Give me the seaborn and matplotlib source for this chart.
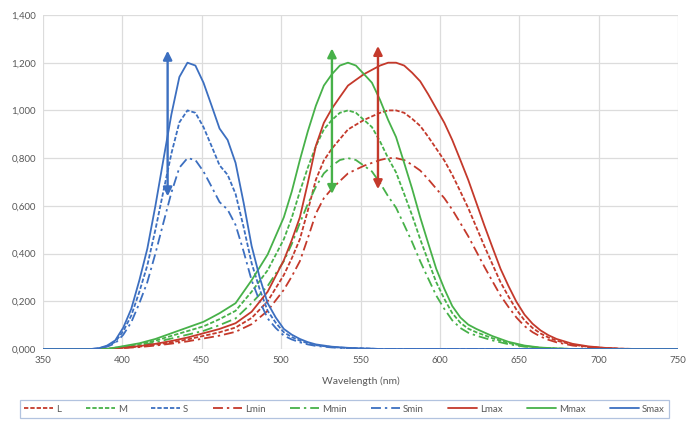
import numpy as np
import pandas as pd
import seaborn as sns
from matplotlib import pyplot as plt
from matplotlib.ticker import FuncFormatter, MultipleLocator

# base cone sensitivity curves (peak = 1.0)
wl_s = [350, 380.3, 385.4, 390.4, 395.5, 400.6, 405.6, 410.7, 415.7, 420.8,
        425.8, 430.9, 435.9, 441.0, 446.0, 451.1, 456.2, 461.2, 466.3, 471.3,
        476.4, 481.4, 486.5, 491.5, 496.6, 501.7, 506.7, 511.8, 516.8, 521.9,
        532.0, 542.1, 552.2, 562.3, 750]
s_base = [0.0, 0.0, 0.003, 0.012, 0.03, 0.075, 0.14, 0.24, 0.35, 0.5, 0.66,
          0.82, 0.95, 1.0, 0.99, 0.93, 0.85, 0.77, 0.73, 0.65, 0.51, 0.36,
          0.25, 0.16, 0.11, 0.07, 0.05, 0.035, 0.024, 0.016, 0.008, 0.004,
          0.002, 0.0, 0.0]

wl_m = [350, 390.4, 400.6, 410.7, 420.8, 430.9, 441.0, 451.1, 456.2, 461.2,
        471.3, 481.4, 491.5, 501.7, 506.7, 511.8, 516.8, 521.9, 526.9, 532.0,
        537.0, 542.1, 547.1, 552.2, 557.2, 562.3, 567.4, 572.4, 577.5, 582.5,
        587.6, 592.6, 597.7, 602.8, 607.8, 612.9, 617.9, 623.0, 633.1, 643.2,
        653.3, 663.4, 673.5, 683.6, 750]
m_base = [0.0, 0.0, 0.01, 0.02, 0.035, 0.055, 0.075, 0.095, 0.11, 0.125,
          0.16, 0.24, 0.33, 0.46, 0.55, 0.66, 0.76, 0.85, 0.92, 0.96, 0.99,
          1.0, 0.99, 0.96, 0.93, 0.87, 0.8, 0.74, 0.65, 0.56, 0.46, 0.37,
          0.28, 0.21, 0.15, 0.11, 0.085, 0.07, 0.045, 0.025, 0.012, 0.005,
          0.002, 0.0, 0.0]

wl_l = [350, 390.4, 400.6, 410.7, 420.8, 430.9, 441.0, 451.1, 461.2, 471.3,
        481.4, 491.5, 501.7, 506.7, 511.8, 516.8, 521.9, 526.9, 532.0, 537.0,
        542.1, 547.1, 552.2, 557.2, 562.3, 567.4, 572.4, 577.5, 582.5, 587.6,
        592.6, 597.7, 602.8, 607.8, 612.9, 617.9, 623.0, 628.1, 633.1, 638.2,
        643.2, 648.2, 653.3, 658.4, 663.4, 668.4, 673.5, 683.6, 693.7, 703.9,
        714.0, 724.1, 750]
l_base = [0.0, 0.0, 0.005, 0.01, 0.018, 0.028, 0.04, 0.055, 0.07, 0.09, 0.13,
          0.2, 0.31, 0.38, 0.46, 0.58, 0.71, 0.79, 0.84, 0.88, 0.92, 0.94,
          0.96, 0.975, 0.99, 1.0, 1.0, 0.99, 0.965, 0.935, 0.89, 0.84, 0.79,
          0.73, 0.66, 0.59, 0.51, 0.43, 0.355, 0.28, 0.22, 0.165, 0.12, 0.088,
          0.065, 0.048, 0.035, 0.018, 0.009, 0.004, 0.001, 0.0, 0.0]

# the min / max series are the base curves scaled by these factors
variants = ['', 'min', 'max']
factor_of = {'min': 0.8, '': 1.0, 'max': 1.2}

# double arrows: wavelength, low value, high value
arrow_cone = ['S', 'M', 'L']
arrow_wl = [428.5, 532.0, 561.0]
arrow_lo = [0.64, 0.65, 0.67]
arrow_hi = [1.25, 1.26, 1.27]

colors = {'L': '#C4392B', 'M': '#47B149', 'S': '#3C6FC0'}
cones = {'L': (wl_l, l_base), 'M': (wl_m, m_base), 'S': (wl_s, s_base)}

rows = []
order = []
for v in variants:
    for c in ['L', 'M', 'S']:
        name = c + v
        order.append(name)
        wl, base = cones[c]
        for x, y in zip(wl, base):
            rows.append({'wl': x, 'val': y * factor_of[v], 'series': name})
df = pd.DataFrame(rows)

palette = {n: colors[n[0]] for n in order}
dash_of = {'': (2.4, 1.1), 'min': (5.5, 2.2, 1.3, 2.2), 'max': ''}
dashes = {n: dash_of[n[1:]] for n in order}

sns.set_style('white')
plt.rcParams['font.family'] = ['Lato', 'DejaVu Sans']

fig = plt.figure(figsize=(6.88, 4.29), dpi=100)
ax = fig.add_axes([0.0625, 0.1865, 0.923, 0.7786])

sns.lineplot(
    data=df, x='wl', y='val', hue='series', style='series',
    hue_order=order, style_order=order, palette=palette, dashes=dashes,
    linewidth=1.3, estimator=None, sort=False, ax=ax
)

for i in range(3):
    ax.annotate(
        '', xy=(arrow_wl[i], arrow_hi[i]), xytext=(arrow_wl[i], arrow_lo[i]),
        arrowprops=dict(arrowstyle='<|-|>', color=colors[arrow_cone[i]],
                        lw=1.7, mutation_scale=13, shrinkA=0, shrinkB=0)
    )

ax.set_xlim(350, 750)
ax.set_ylim(0, 1.4)
ax.xaxis.set_major_locator(MultipleLocator(50))
ax.yaxis.set_major_locator(MultipleLocator(0.2))
ax.yaxis.set_major_formatter(
    FuncFormatter(lambda v, p: ('%.3f' % v).replace('.', ','))
)
ax.grid(True, color='#dcdcdc', lw=0.9)
ax.set_axisbelow(True)
for sp in ax.spines.values():
    sp.set_visible(False)
ax.tick_params(axis='both', length=0, labelsize=7, colors='#595959', pad=5)
ax.set_xlabel('Wavelength (nm)', fontsize=7.5, color='#595959', labelpad=8)
ax.set_ylabel('')

sns.move_legend(
    ax, 'center', bbox_to_anchor=(0.475, -0.18), ncol=9, title=None,
    frameon=True, fontsize=7, handlelength=3.0, columnspacing=2.5,
    handletextpad=0.3, borderpad=0.45
)
leg = ax.get_legend()
leg.get_frame().set_edgecolor('#9fb4d8')
leg.get_frame().set_linewidth(0.9)
leg.get_frame().set_boxstyle('square', pad=0)
for t in leg.get_texts():
    t.set_color('#595959')

fig.savefig('out.png', dpi=100)
